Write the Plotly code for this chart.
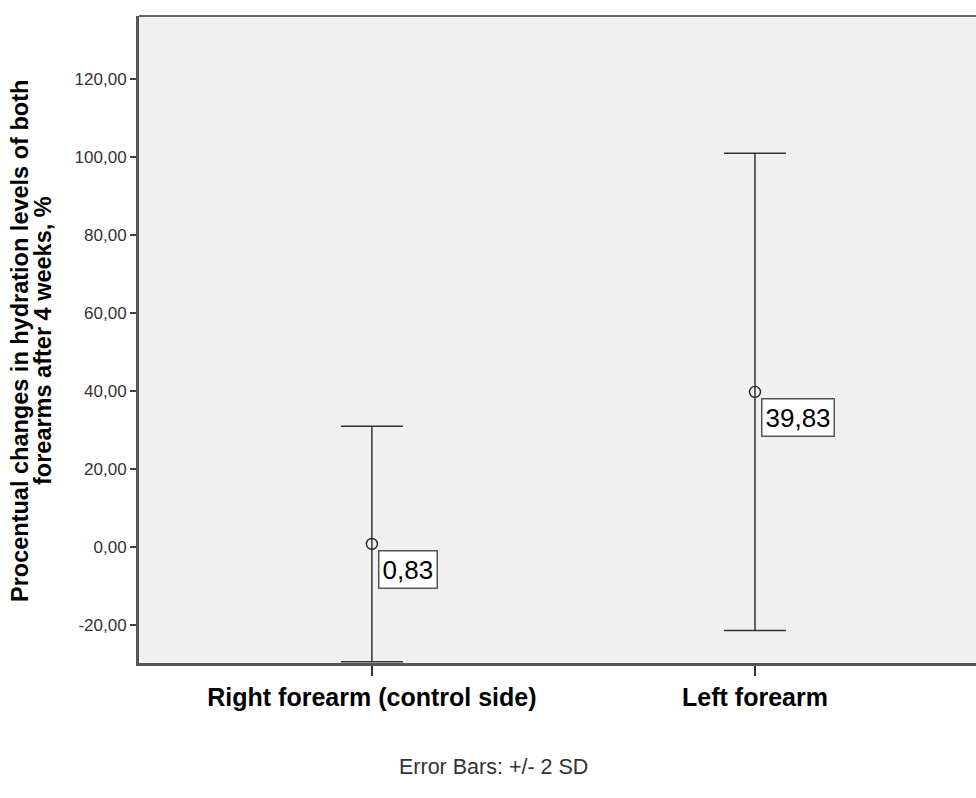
import plotly.graph_objects as go

categories = ["Right forearm (control side)", "Left forearm"]
means = [0.83, 39.83]
err_plus = [30.2, 61.2]
err_minus = [30.2, 61.2]
mean_labels = ["0,83", "39,83"]
y_ticks = [-20, 0, 20, 40, 60, 80, 100, 120]
y_tick_labels = ["-20,00", "0,00", "20,00", "40,00", "60,00", "80,00", "100,00", "120,00"]
y_title_lines = ["Procentual changes in hydration levels of both", "forearms after 4 weeks, %"]

fig = go.Figure()
fig.add_trace(go.Scatter(
    x=[0, 1], y=means, mode="markers",
    marker=dict(symbol="circle-open", size=11, color="#222222", line=dict(width=1.4, color="#222222")),
    error_y=dict(type="data", symmetric=False, array=err_plus, arrayminus=err_minus,
                 color="#333333", thickness=1.5, width=31),
    showlegend=False, cliponaxis=False,
))

for i, (m, lab) in enumerate(zip(means, mean_labels)):
    fig.add_annotation(x=i, y=m, text=lab, showarrow=False, xanchor="left", yanchor="top",
                       xshift=6, yshift=-6, font=dict(size=26, color="black", family="Liberation Sans, Arial"),
                       bgcolor="white", bordercolor="#555555", borderwidth=1.5, borderpad=3)

# y-axis title as two rotated lines
for xpix, line in zip([20, 43], y_title_lines):
    fig.add_annotation(x=(xpix - 139) / 837, y=(663 - 341) / 647, xref="paper", yref="paper",
                       text="<b>%s</b>" % line, textangle=-90, showarrow=False,
                       xanchor="center", yanchor="middle",
                       font=dict(size=23.5, color="black", family="Liberation Sans, Arial"))

fig.add_annotation(x=(493 - 139) / 837, y=-(767 - 663) / 647, xref="paper", yref="paper",
                   text="Error Bars: +/- 2 SD",
                   showarrow=False, xanchor="center", yanchor="middle",
                   font=dict(size=21.5, color="#333333", family="Liberation Sans, Arial"))

fig.add_shape(type="line", xref="paper", yref="paper", x0=0, x1=1, y0=1, y1=1,
              line=dict(color="#666666", width=2))

fig.update_layout(
    width=976, height=798,
    margin=dict(l=139, r=0, t=16, b=135),
    plot_bgcolor="#f0f0f0", paper_bgcolor="white",
    font=dict(family="Liberation Sans, Arial", color="#333333"),
    xaxis=dict(type="linear", range=[-0.608, 1.577], tickvals=[0, 1],
               ticktext=["<b>%s</b>" % c for c in categories],
               showgrid=False, zeroline=False, showline=True, linecolor="#555555", linewidth=3,
               ticks="outside", ticklen=10, tickwidth=1.5, tickcolor="#333333",
               tickfont=dict(size=25, color="black")),
    yaxis=dict(range=[-29.7, 136.2], tickvals=y_ticks, ticktext=y_tick_labels,
               showgrid=False, zeroline=False, showline=True, linecolor="#555555", linewidth=3,
               ticks="outside", ticklen=6, tickwidth=2, tickcolor="#444444",
               tickfont=dict(size=17, color="#333333")),
)

fig.write_html("out.html")
